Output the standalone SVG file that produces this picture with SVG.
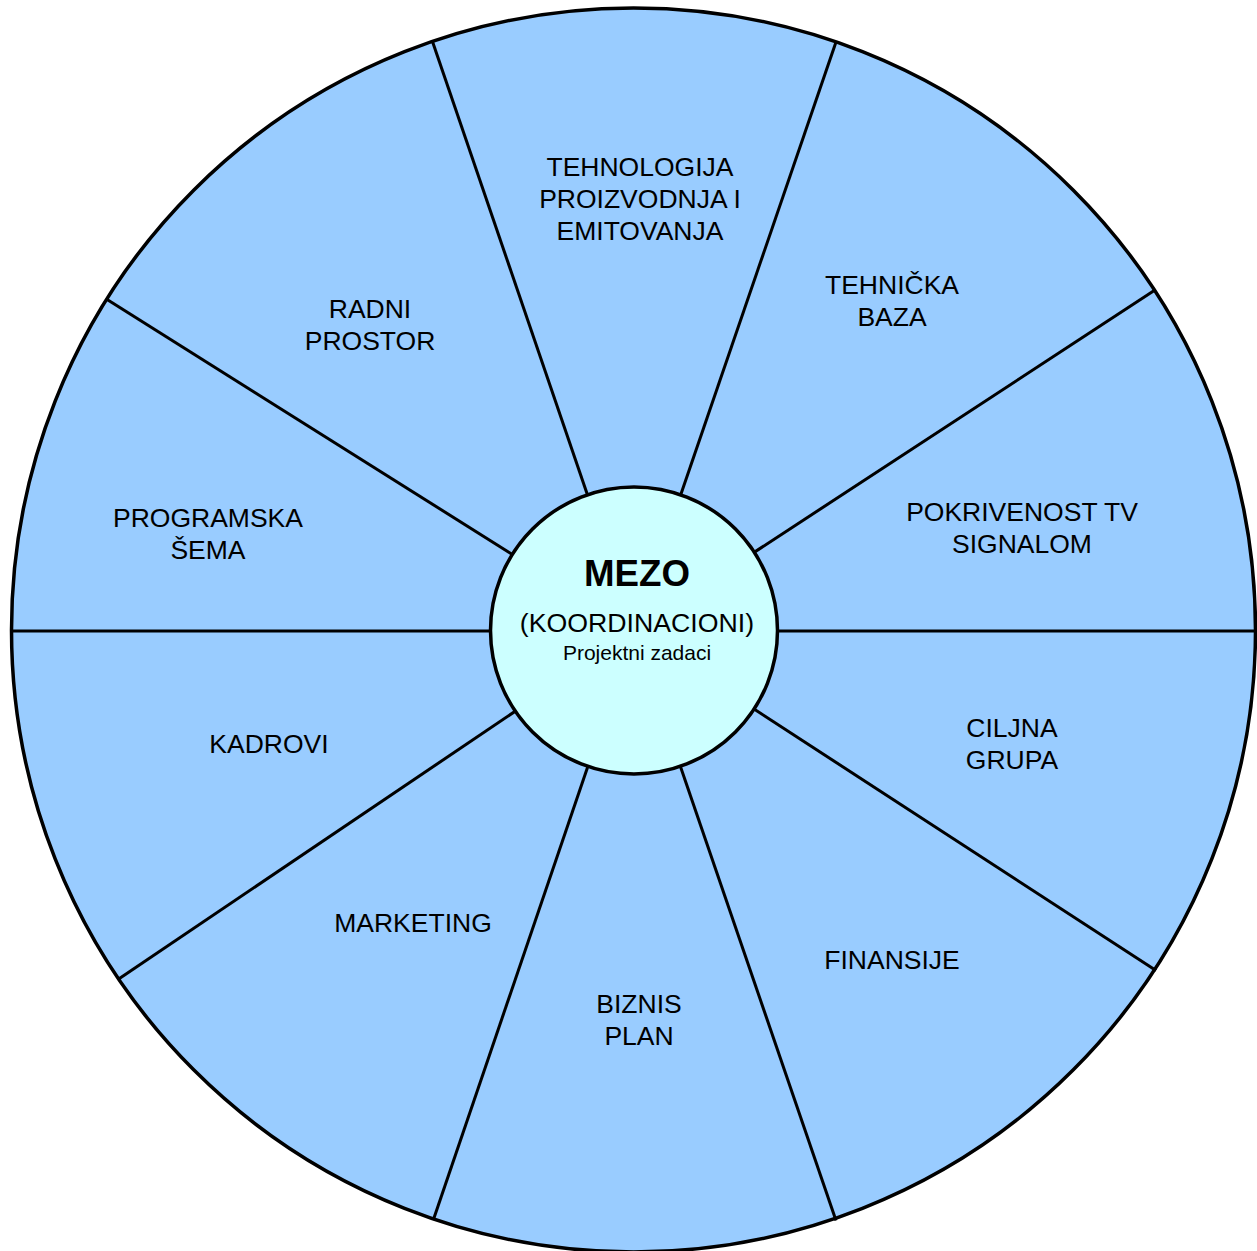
<svg xmlns="http://www.w3.org/2000/svg" width="1257" height="1251" viewBox="0 0 1257 1251">
<style>
.wheel{fill:#99CCFF;stroke:#000;stroke-width:3.5}
.spoke{stroke:#000;stroke-width:3;fill:none}
.hub{fill:#CCFFFF;stroke:#000;stroke-width:3.5}
.lbl{font-family:"Liberation Sans",Arial,sans-serif;font-size:26.5px;fill:#000;text-anchor:middle}
.mid{font-family:"Liberation Sans",Arial,sans-serif;font-size:26.7px;fill:#000;text-anchor:middle}
.title{font-family:"Liberation Sans",Arial,sans-serif;font-size:36.7px;font-weight:bold;fill:#000;text-anchor:middle}
.sub{font-family:"Liberation Sans",Arial,sans-serif;font-size:21px;fill:#000;text-anchor:middle}
</style>
<rect width="1257" height="1251" fill="#fff"/>
<g id="wheel">
<circle class="wheel" cx="633.5" cy="630" r="622"/>
</g>
<g id="connectors">
<line class="spoke" x1="11.5" y1="631" x2="634" y2="631"/>
<line class="spoke" x1="1255.5" y1="631" x2="634" y2="631"/>
<line class="spoke" x1="432.3" y1="41" x2="634" y2="631"/>
<line class="spoke" x1="836" y1="42" x2="634" y2="631"/>
<line class="spoke" x1="106.7" y1="299.3" x2="634" y2="631"/>
<line class="spoke" x1="1155" y1="290" x2="634" y2="631"/>
<line class="spoke" x1="118.3" y1="979.3" x2="634" y2="631"/>
<line class="spoke" x1="1156" y1="970.5" x2="634" y2="631"/>
<line class="spoke" x1="433.3" y1="1220" x2="634" y2="631"/>
<line class="spoke" x1="836" y1="1220.5" x2="634" y2="631"/>
</g>
<g id="node-mezo">
<circle class="hub" cx="634" cy="630.5" r="143.5"/>
<text class="title" x="637" y="586">MEZO</text>
<text class="mid" x="637" y="632">(KOORDINACIONI)</text>
<text class="sub" x="637" y="660">Projektni zadaci</text>
</g>
<g id="node-tehnologija">
<text class="lbl" x="640" y="176">TEHNOLOGIJA</text>
<text class="lbl" x="640" y="208">PROIZVODNJA I</text>
<text class="lbl" x="640" y="240">EMITOVANJA</text>
</g>
<g id="node-tehnicka-baza">
<text class="lbl" x="892" y="294">TEHNIČKA</text>
<text class="lbl" x="892" y="326">BAZA</text>
</g>
<g id="node-radni-prostor">
<text class="lbl" x="370" y="318">RADNI</text>
<text class="lbl" x="370" y="350">PROSTOR</text>
</g>
<g id="node-programska-sema">
<text class="lbl" x="208" y="527">PROGRAMSKA</text>
<text class="lbl" x="208" y="559">ŠEMA</text>
</g>
<g id="node-pokrivenost">
<text class="lbl" x="1022" y="521">POKRIVENOST TV</text>
<text class="lbl" x="1022" y="553">SIGNALOM</text>
</g>
<g id="node-ciljna-grupa">
<text class="lbl" x="1012" y="737">CILJNA</text>
<text class="lbl" x="1012" y="769">GRUPA</text>
</g>
<g id="node-kadrovi">
<text class="lbl" x="269" y="753">KADROVI</text>
</g>
<g id="node-marketing">
<text class="lbl" x="413" y="932">MARKETING</text>
</g>
<g id="node-finansije">
<text class="lbl" x="892" y="969">FINANSIJE</text>
</g>
<g id="node-biznis-plan">
<text class="lbl" x="639" y="1013">BIZNIS</text>
<text class="lbl" x="639" y="1045">PLAN</text>
</g>
</svg>
